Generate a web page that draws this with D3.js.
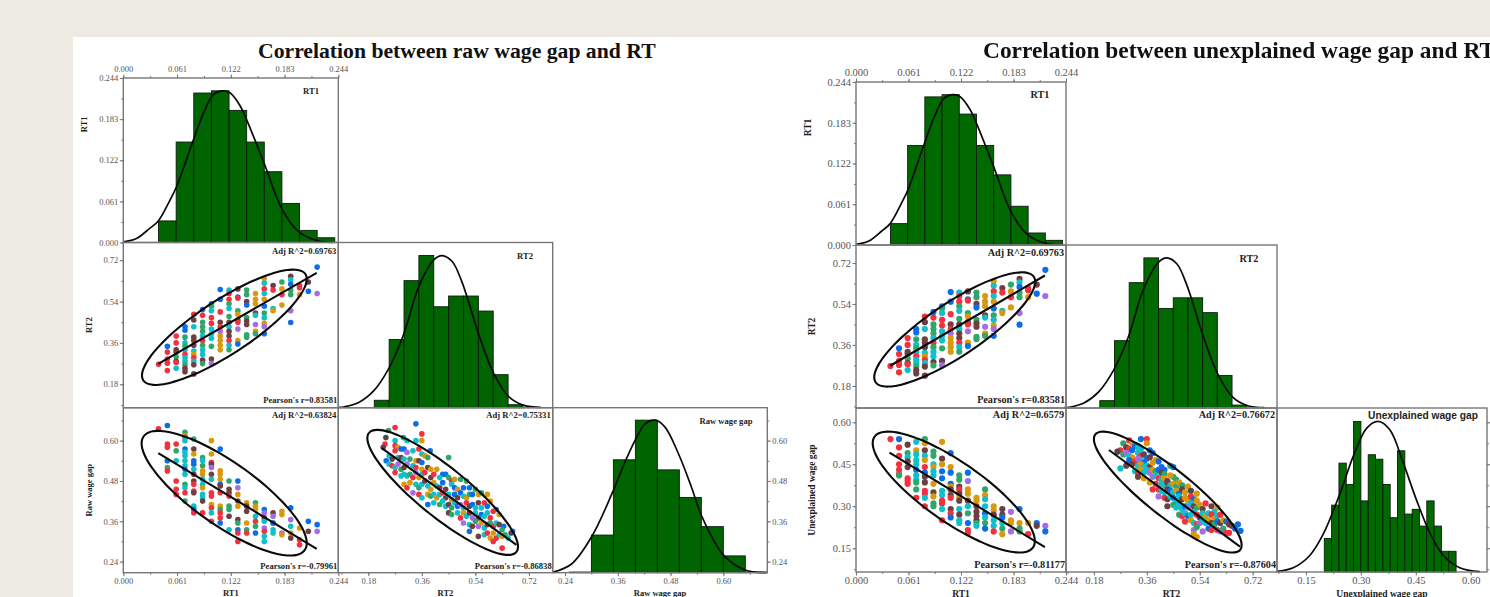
<!DOCTYPE html>
<html><head><meta charset="utf-8">
<script src="https://cdnjs.cloudflare.com/ajax/libs/d3/7.8.5/d3.min.js"></script>
<style>
html,body{margin:0;padding:0;background:#EDEBE1;overflow:hidden}
svg{display:block;filter:blur(0.6px)}
text{font-family:"Liberation Serif",serif}
</style></head><body><svg id="c" width="1490" height="597"></svg>
<script>
// ---------- tick labels ----------
const rt1Ticks=[0,.061,.122,.183,.244];
const rt2Ticks=[.18,.36,.54,.72];
const rawTicks=[.24,.36,.48,.60];
const unexTicks=[.15,.30,.45,.60];
// ---------- histograms: bin left edges and heights ----------
const rt1Edges=[.04,.06,.08,.10,.12,.14,.16,.18,.20,.22,.24];
const rt1Heights=[.032,.149,.2217,.225,.196,.149,.105,.058,.018,.007];
const rt2Edges=[.20,.25,.30,.35,.40,.45,.50,.55,.60,.65,.70];
const rt2Heights=[.045,.413,.769,.921,.611,.676,.676,.585,.20,.018];
const rawEdges=[.25,.30,.35,.40,.45,.50,.55,.60,.65,.70];
const rawHeights=[.209,.319,.543,.661,.513,.431,.344,.257,.209];
const unexEdges=[.20,.22,.24,.26,.28,.30,.32,.34,.36,.38,.40,.42,.44,.46,.48,.50,.52,.54,.56];
const unexHeights=[.185,.304,.454,.378,.603,.319,.484,.468,.378,.259,.498,.272,.289,.229,.319,.229,.139,.139];
// ---------- fitted curves ----------
const rt1Curve=[[0,.001],[.015,.006],[.030,.021],[.0397,.032],[.053,.063],[.0605,.083],[.0795,.152],[.091,.192],[.102,.219],[.112,.225],[.121,.222],[.132,.204],[.140,.182],[.1597,.118],[.180,.050],[.199,.016],[.219,.003],[.238,0]];
const rt2Curve=[[.079,.002],[.101,.006],[.146,.03],[.197,.10],[.248,.235],[.298,.44],[.349,.73],[.40,.895],[.428,.921],[.462,.885],[.495,.76],[.552,.44],[.602,.206],[.653,.065],[.703,.014],[.76,.002]];
const rawCurve=[[.213,.209],[.255,.233],[.301,.315],[.346,.44],[.376,.535],[.399,.60],[.422,.65],[.445,.661],[.467,.641],[.498,.561],[.528,.46],[.551,.375],[.60,.26],[.649,.215],[.698,.207]];
const unexCurve=[[.07,.067],[.115,.08],[.161,.125],[.197,.20],[.243,.346],[.279,.478],[.316,.579],[.347,.603],[.379,.573],[.416,.454],[.452,.322],[.489,.203],[.525,.125],[.57,.08],[.625,.066]];
// ---------- regression lines [x0,y0,x1,y1] ----------
const lineRt1Rt2=[.0397,.2687,.2195,.665];
const lineRt1Raw=[.0397,.563,.2195,.278];
const lineRt2Raw=[.2252,.578,.678,.29];
const lineRt1Unex=[.0389,.4915,.2195,.1536];
const lineRt2Unex=[.2312,.501,.677,.156];
// ---------- confidence ellipses [meanX,meanY,halfWidth,halfHeight,r] ----------
const ellRt1Rt2=[.1147,.428,.0935,.251,.836];
const ellRt1Raw=[.1145,.4435,.0937,.1855,-.80];
const ellRt2Raw=[.43,.446,.2533,.186,-.868];
const ellRt1Unex=[.1136,.3505,.0942,.216,-.81];
const ellRt2Unex=[.4313,.3505,.2513,.216,-.876];
// ---------- groups ----------
const groupColors=["#F2313F","#0B6EE6","#2FA76B","#D9990E","#A56CE4","#6E3F41","#0FC0CB","#4A4A4A"];
// ---------- scatter points [x,y,group] ----------
const ptsRt1Rt2=[[.04,.267,0],[.05,.345,1],[.05,.32,0],[.05,.29,0],[.05,.272,0],[.05,.24,0],
[.06,.39,0],[.06,.36,0],[.06,.33,5],[.06,.32,5],[.06,.30,2],[.06,.28,5],[.06,.275,0],[.06,.25,6],
[.07,.43,1],[.07,.415,1],[.07,.385,2],[.07,.36,6],[.07,.345,2],[.07,.33,6],[.07,.31,0],[.07,.295,6],[.07,.28,6],[.07,.265,2],[.07,.25,5],[.07,.235,5],
[.08,.485,0],[.08,.46,5],[.08,.43,6],[.08,.385,5],[.08,.37,5],[.08,.35,5],[.08,.325,6],[.08,.31,3],[.08,.295,0],[.08,.28,6],[.08,.265,5],[.08,.225,5],
[.09,.505,1],[.09,.48,0],[.09,.45,2],[.09,.43,2],[.09,.41,2],[.09,.39,6],[.09,.37,0],[.09,.35,2],[.09,.33,6],[.09,.31,6],[.09,.285,5],[.09,.27,2],
[.10,.53,1],[.10,.52,2],[.10,.50,6],[.10,.47,0],[.10,.445,0],[.10,.42,6],[.10,.40,6],[.10,.38,6],[.10,.345,2],[.10,.29,5],[.10,.27,4],
[.11,.592,1],[.11,.55,1],[.11,.495,0],[.11,.45,5],[.11,.43,0],[.11,.41,4],[.11,.39,3],[.11,.37,3],[.11,.35,3],[.11,.33,3],
[.12,.59,6],[.12,.575,0],[.12,.55,0],[.12,.53,2],[.12,.51,6],[.12,.475,2],[.12,.45,5],[.12,.43,6],[.12,.41,5],[.12,.39,5],[.12,.37,0],[.12,.35,6],[.12,.33,2],
[.13,.595,5],[.13,.56,1],[.13,.555,0],[.13,.50,2],[.13,.485,3],[.13,.46,5],[.13,.45,0],[.13,.42,4],[.13,.37,3],[.13,.355,1],
[.14,.59,2],[.14,.57,2],[.14,.54,5],[.14,.525,1],[.14,.47,2],[.14,.455,5],[.14,.44,5],[.14,.395,2],[.14,.385,2],
[.15,.575,3],[.15,.55,3],[.15,.53,3],[.15,.49,5],[.15,.48,6],[.15,.44,4],[.15,.41,3],[.15,.40,2],
[.16,.64,3],[.16,.62,6],[.16,.595,0],[.16,.575,6],[.16,.55,3],[.16,.52,1],[.16,.49,2],[.16,.47,6],[.16,.445,3],[.16,.43,4],[.16,.40,1],
[.17,.61,5],[.17,.59,0],[.17,.51,6],[.17,.50,3],
[.18,.625,2],[.18,.595,3],[.18,.57,0],[.18,.525,3],
[.19,.65,5],[.19,.635,6],[.19,.615,1],[.19,.59,2],[.19,.57,2],[.19,.50,4],[.19,.449,1],
[.20,.61,0],[.20,.60,0],[.20,.57,3],[.21,.625,5],[.21,.585,1],[.22,.69,1],[.22,.575,4]];
const ptsRt1Raw=[[.04,.635,0],[.05,.645,1],[.05,.59,0],[.05,.58,0],[.05,.54,1],[.05,.52,2],[.05,.51,0],
[.06,.59,0],[.06,.57,2],[.06,.54,6],[.06,.48,0],[.06,.455,0],[.06,.44,0],
[.07,.625,2],[.07,.615,3],[.07,.61,0],[.07,.60,6],[.07,.575,1],[.07,.565,6],[.07,.555,6],[.07,.54,6],[.07,.525,6],[.07,.515,1],[.07,.50,6],[.07,.47,2],[.07,.46,6],[.07,.445,0],[.07,.42,2],
[.08,.605,2],[.08,.575,5],[.08,.56,3],[.08,.54,1],[.08,.53,1],[.08,.515,6],[.08,.50,5],[.08,.48,5],[.08,.47,0],[.08,.45,0],[.08,.445,5],[.08,.405,6],[.08,.395,1],[.08,.385,0],
[.09,.55,2],[.09,.54,6],[.09,.525,2],[.09,.51,3],[.09,.50,3],[.09,.485,6],[.09,.47,6],[.09,.46,3],[.09,.44,6],[.09,.43,6],[.09,.42,5],[.09,.385,0],
[.10,.60,3],[.10,.56,3],[.10,.535,0],[.10,.53,5],[.10,.52,4],[.10,.50,5],[.10,.485,6],[.10,.445,0],[.10,.435,0],[.10,.41,3],[.10,.40,0],[.10,.385,6],[.10,.36,0],
[.11,.575,1],[.11,.51,3],[.11,.50,3],[.11,.485,3],[.11,.47,1],[.11,.465,5],[.11,.445,0],[.11,.405,3],[.11,.395,2],[.11,.385,0],[.11,.37,0],[.11,.355,1],
[.12,.48,2],[.12,.455,5],[.12,.445,5],[.12,.435,0],[.12,.405,2],[.12,.395,2],[.12,.375,5],[.12,.335,6],
[.13,.48,1],[.13,.46,4],[.13,.44,3],[.13,.42,5],[.13,.405,3],[.13,.365,5],[.13,.355,2],[.13,.335,1],[.13,.325,0],[.13,.30,0],
[.14,.415,3],[.14,.405,5],[.14,.39,5],[.14,.355,3],[.14,.335,2],[.14,.325,0],
[.15,.415,2],[.15,.405,3],[.15,.395,3],[.15,.375,6],[.15,.36,0],[.15,.345,2],[.15,.325,1],
[.16,.395,1],[.16,.385,4],[.16,.37,5],[.16,.36,6],[.16,.34,4],[.16,.33,0],[.16,.315,6],[.16,.30,6],
[.17,.385,5],[.17,.375,4],[.17,.355,2],[.17,.355,1],[.17,.335,6],[.17,.325,6],
[.18,.39,3],[.18,.38,3],[.18,.325,4],[.18,.32,3],
[.19,.40,1],[.19,.365,4],[.19,.345,6],[.19,.325,3],[.19,.31,5],
[.20,.34,3],[.20,.305,0],[.20,.29,0],[.21,.36,1],[.21,.33,5],[.22,.35,1],[.22,.33,4]];
const ptsRt1Unex=[[.04,.54,0],[.05,.54,1],[.05,.51,0],[.05,.48,0],[.05,.45,0],[.05,.43,0],[.05,.415,0],[.05,.41,2],
[.06,.52,5],[.06,.49,2],[.06,.475,6],[.06,.46,5],[.06,.44,5],[.06,.40,0],[.06,.39,0],[.06,.38,0],
[.07,.53,6],[.07,.50,3],[.07,.485,6],[.07,.465,6],[.07,.45,6],[.07,.43,1],[.07,.41,6],[.07,.395,6],[.07,.385,2],[.07,.36,2],[.07,.33,0],
[.08,.54,2],[.08,.525,3],[.08,.50,5],[.08,.48,6],[.08,.465,3],[.08,.44,0],[.08,.42,1],[.08,.405,5],[.08,.385,5],[.08,.355,0],[.08,.345,0],[.08,.33,6],[.08,.30,0],
[.09,.495,2],[.09,.48,2],[.09,.45,6],[.09,.44,3],[.09,.425,6],[.09,.41,6],[.09,.38,3],[.09,.35,5],[.09,.335,3],[.09,.31,2],[.09,.30,2],
[.10,.53,3],[.10,.47,5],[.10,.45,3],[.10,.425,1],[.10,.40,1],[.10,.355,6],[.10,.34,6],[.10,.32,0],[.10,.31,0],[.10,.29,6],[.10,.25,0],
[.11,.49,1],[.11,.44,3],[.11,.42,1],[.11,.38,1],[.11,.37,3],[.11,.36,5],[.11,.34,5],[.11,.33,0],[.11,.29,5],[.11,.275,0],[.11,.26,1],
[.12,.41,2],[.12,.395,2],[.12,.37,5],[.12,.36,0],[.12,.345,5],[.12,.33,3],[.12,.32,5],[.12,.29,6],[.12,.27,5],[.12,.25,6],[.12,.24,6],
[.13,.42,1],[.13,.39,4],[.13,.36,3],[.13,.345,3],[.13,.32,5],[.13,.30,6],[.13,.275,2],[.13,.24,1],[.13,.215,0],[.13,.205,0],
[.14,.33,3],[.14,.32,3],[.14,.30,5],[.14,.28,5],[.14,.265,5],[.14,.25,5],[.14,.24,2],[.14,.23,6],
[.15,.36,2],[.15,.34,3],[.15,.325,6],[.15,.30,6],[.15,.275,1],[.15,.26,6],[.15,.24,2],[.15,.22,1],
[.16,.30,3],[.16,.285,3],[.16,.27,5],[.16,.25,6],[.16,.23,6],[.16,.21,0],
[.17,.29,5],[.17,.27,5],[.17,.26,1],[.17,.24,6],[.17,.22,2],[.17,.20,3],
[.18,.28,4],[.18,.25,3],[.18,.24,3],[.18,.21,4],
[.19,.29,1],[.19,.24,3],[.19,.22,2],[.19,.21,2],
[.20,.24,3],[.20,.20,0],[.21,.24,1],[.21,.23,5],[.22,.23,4],[.22,.21,1]];
const ptsRt2Raw=[[.27,.639,0],[.34,.65,1],[.248,.63,2],[.36,.62,0],[.239,.609,7],[.298,.609,2],[.31,.60,6],[.27,.60,6],[.34,.60,6],[.36,.60,3],[.236,.59,0],[.23,.58,5],[.388,.57,1],[.45,.55,2],
[.27,.585,0],[.28,.58,3],[.29,.575,1],[.30,.575,1],[.31,.565,4],[.27,.57,0],[.33,.57,6],[.35,.575,0],[.36,.56,6],[.37,.555,3],
[.25,.555,6],[.26,.545,5],[.24,.54,1],[.28,.55,6],[.29,.55,5],[.30,.545,6],[.32,.545,2],[.34,.54,3],[.35,.54,5],[.36,.535,1],[.38,.55,2],
[.25,.53,6],[.26,.525,0],[.27,.52,6],[.28,.53,4],[.29,.515,2],[.30,.52,5],[.31,.53,4],[.33,.525,6],[.34,.52,0],[.36,.515,3],[.38,.52,5],[.39,.515,3],[.41,.515,3],[.43,.50,1],[.44,.50,1],
[.27,.505,0],[.29,.495,6],[.30,.50,6],[.31,.495,6],[.32,.50,2],[.33,.49,0],[.34,.505,4],[.35,.49,3],[.36,.50,6],[.37,.505,0],[.39,.49,5],[.40,.50,0],[.42,.49,6],[.45,.49,2],[.46,.48,0],[.47,.485,3],[.49,.485,2],[.51,.48,2],
[.30,.47,3],[.31,.46,0],[.32,.475,3],[.34,.47,6],[.35,.46,2],[.36,.47,6],[.37,.48,5],[.38,.465,6],[.39,.455,3],[.40,.475,3],[.41,.465,6],[.42,.46,5],[.43,.475,1],[.44,.455,5],[.46,.47,6],[.47,.46,1],[.48,.455,3],[.50,.46,1],[.52,.46,1],[.54,.455,2],
[.33,.445,4],[.35,.44,0],[.36,.43,6],[.38,.44,3],[.39,.435,2],[.40,.44,6],[.41,.43,3],[.42,.44,6],[.43,.445,0],[.44,.43,5],[.45,.44,6],[.46,.425,3],[.47,.44,1],[.48,.43,5],[.49,.445,1],[.50,.435,6],[.51,.43,3],[.52,.44,2],[.53,.44,1],[.55,.44,3],[.56,.445,2],[.58,.44,3],
[.38,.41,1],[.40,.415,6],[.42,.41,2],[.43,.42,6],[.44,.405,6],[.45,.41,5],[.46,.40,2],[.47,.415,6],[.48,.405,1],[.49,.41,4],[.50,.40,6],[.51,.415,0],[.52,.405,5],[.53,.41,1],[.54,.40,6],[.55,.415,5],[.56,.40,6],[.57,.415,0],[.58,.405,1],[.59,.42,3],[.61,.395,1],
[.45,.385,5],[.46,.38,2],[.48,.385,6],[.49,.37,0],[.50,.385,3],[.51,.375,6],[.52,.385,5],[.53,.37,4],[.54,.385,6],[.55,.37,5],[.56,.38,1],[.57,.375,6],[.58,.385,6],[.59,.37,0],[.60,.39,0],[.62,.38,3],
[.50,.355,4],[.52,.35,6],[.53,.345,5],[.54,.36,2],[.55,.345,4],[.56,.355,3],[.57,.34,6],[.58,.35,5],[.59,.355,2],[.60,.345,0],[.61,.355,6],[.62,.35,5],[.635,.345,1],[.665,.33,1],[.63,.335,2],
[.52,.33,1],[.55,.315,5],[.57,.32,6],[.58,.325,0],[.59,.31,3],[.60,.325,3],[.61,.31,0],[.62,.32,6],[.63,.315,3],[.64,.32,2],[.65,.31,6],[.66,.325,7],[.63,.28,0],[.60,.30,0]];
const ptsRt2Unex=[[.34,.54,1],[.36,.54,0],[.36,.525,3],[.30,.535,0],[.28,.525,2],[.31,.525,3],[.32,.515,1],[.33,.51,6],[.29,.51,5],[.30,.505,0],[.27,.50,0],[.26,.495,7],[.31,.50,1],[.34,.505,6],[.37,.50,1],[.38,.49,1],
[.28,.485,2],[.29,.49,4],[.30,.48,6],[.31,.475,3],[.33,.49,6],[.34,.48,0],[.35,.485,5],[.36,.47,1],[.37,.475,5],[.30,.465,1],[.32,.46,0],[.34,.465,6],[.35,.455,1],[.33,.47,4],[.39,.465,3],[.40,.46,1],
[.29,.445,5],[.31,.45,5],[.33,.445,6],[.34,.45,3],[.35,.44,6],[.36,.445,6],[.37,.44,5],[.38,.455,3],[.41,.44,1],[.42,.43,1],[.44,.445,2],[.45,.44,1],
[.27,.435,6],[.32,.425,6],[.33,.42,0],[.34,.43,3],[.35,.42,6],[.36,.43,6],[.37,.42,4],[.38,.43,3],[.39,.425,2],[.40,.43,1],[.41,.42,5],[.42,.415,2],[.45,.405,2],[.33,.405,5],[.35,.40,3],
[.38,.405,4],[.39,.41,6],[.40,.40,0],[.41,.395,6],[.42,.40,3],[.43,.39,5],[.44,.41,3],[.46,.395,2],[.37,.385,3],[.39,.38,0],[.41,.38,6],[.42,.375,6],[.43,.385,5],[.44,.375,6],[.45,.38,3],[.46,.37,2],[.47,.385,3],[.48,.375,2],[.50,.37,3],[.38,.36,0],[.40,.36,0],[.41,.355,6],[.42,.35,6],[.43,.36,5],[.44,.355,1],[.45,.35,6],[.46,.355,3],[.47,.345,1],[.48,.36,5],[.49,.35,3],[.51,.355,7],[.53,.345,3],
[.40,.335,4],[.42,.33,0],[.43,.325,5],[.44,.335,6],[.45,.33,1],[.46,.32,6],[.47,.335,6],[.48,.325,5],[.49,.33,3],[.50,.32,3],[.51,.335,0],[.52,.325,1],[.53,.32,3],[.43,.30,5],[.45,.305,2],[.46,.295,6],[.47,.305,6],[.48,.29,6],[.49,.30,1],[.50,.295,4],[.51,.31,6],[.52,.30,5],[.53,.295,2],[.54,.305,3],[.55,.29,5],[.56,.31,0],[.58,.30,5],[.60,.295,3],[.59,.28,6],
[.47,.27,2],[.48,.265,0],[.49,.275,6],[.50,.265,1],[.51,.27,6],[.52,.28,6],[.53,.27,0],[.54,.26,5],[.55,.275,6],[.56,.265,3],[.57,.275,6],[.58,.27,0],[.59,.255,3],[.60,.265,6],[.61,.27,0],
[.49,.245,0],[.51,.25,3],[.52,.24,6],[.53,.235,0],[.54,.24,4],[.55,.25,6],[.56,.24,6],[.57,.25,3],[.58,.24,5],[.59,.235,2],[.60,.245,1],[.61,.24,5],[.62,.25,3],[.63,.245,1],[.64,.235,5],[.65,.23,5],
[.52,.215,4],[.53,.225,2],[.55,.21,4],[.57,.22,1],[.58,.215,0],[.60,.215,0],[.61,.21,4],[.62,.22,2],[.63,.205,0],[.64,.205,0],[.52,.20,3],[.53,.19,3],[.66,.22,1],[.679,.212,1],[.67,.235,1]];

// ---------- layout ----------
const svg=d3.select("#c");
svg.append("rect").attr("x",73).attr("y",37).attr("width",1417).attr("height",560).attr("fill","#fff");
const frame="#777",tickCol="#555",barBlack="#0c1a0c";
const groups=[
 {cols:[123.3,338.3,552.7,767.3],rows:[78,242.5,407.7,572.7],fs:8.5,lab:8.5,noteFs:8.6,bar:"#006400",topPad:2.5,
  d2:[.079,.80],y2:[.078,.797],d3:[.212,.70],y3:[.207,.698],ticks3:rawTicks,curve3:rawCurve,edges3:rawEdges,h3:rawHeights,
  pA:ptsRt1Raw,pB:ptsRt2Raw,lA:lineRt1Raw,lB:lineRt2Raw,eA:ellRt1Raw,eB:ellRt2Raw,name3:"Raw wage gap",
  title:"Correlation between raw wage gap and RT",tx:258,ty:57.5,tfs:21.7,
  yLabX:[87,92,92],xLabY:596,
  stats:{a:"0.69763",p:"0.83581",a2:"0.63824",p2:"-0.79961",a3:"0.75331",p3:"-0.86838"},d1x:311,d2x:525,d1y:94,d2y:259,d3x:726,d3y:424,sans3:false,rightLabels:true,r:2.8},
 {cols:[856,1066,1277,1487],rows:[82,245,408,572],fs:10.5,lab:9.5,noteFs:10.2,bar:"#006A00",topPad:2.5,
  d2:[.085,.803],y2:[.083,.799],d3:[.0708,.6445],y3:[.065,.651],ticks3:unexTicks,curve3:unexCurve,edges3:unexEdges,h3:unexHeights,
  pA:ptsRt1Unex,pB:ptsRt2Unex,lA:lineRt1Unex,lB:lineRt2Unex,eA:ellRt1Unex,eB:ellRt2Unex,name3:"Unexplained wage gap",
  title:"Correlation between unexplained wage gap and RT",tx:983,ty:57.5,tfs:23.4,
  yLabX:[811,815,815],xLabY:596.5,
  stats:{a:"0.69763",p:"0.83581",a2:"0.6579",p2:"-0.81177",a3:"0.76672",p3:"-0.87604"},d1x:1040,d2x:1249,d1y:98,d2y:262,d3x:1423,d3y:419,sans3:true,rightLabels:false,r:3.1}
];
const f3=d3.format(".3f"),f2=d3.format(".2f");
const mids=t=>{const s=t[1]-t[0],o=[];for(let v=t[0]-s/2;v<t[t.length-1]+s;v+=s/2)o.push(v);return o;};

function axis(g,gen,tx,ty,ticks,fmt,fs,dom,showLabels,pad=1.5){
 const minor=mids(ticks).filter(v=>v>=dom[0]-1e-9&&v<=dom[1]+1e-9);
 const m=g.append("g").attr("transform",`translate(${tx},${ty})`).call(gen.tickValues(minor).tickSize(2).tickFormat(""));
 const a=g.append("g").attr("transform",`translate(${tx},${ty})`).call(gen.tickValues(ticks).tickSize(3.5).tickPadding(pad).tickFormat(showLabels?fmt:""));
 [m,a].forEach(x=>{x.select(".domain").remove();x.selectAll("line").attr("stroke",frame);});
 a.selectAll("text").attr("font-size",fs).attr("fill",tickCol).style("font-family",'"Liberation Serif",serif');
}
function hist(g,x,y,edges,heights,base,fill){
 g.selectAll(null).data(heights).join("rect")
  .attr("x",(d,i)=>x(edges[i])).attr("width",(d,i)=>x(edges[i+1])-x(edges[i]))
  .attr("y",d=>y(d)).attr("height",d=>y(base)-y(d))
  .attr("fill",fill).attr("stroke",barBlack).attr("stroke-width",.9);
}
function curve(g,x,y,pts){
 g.append("path").attr("d",d3.line().x(d=>x(d[0])).y(d=>y(d[1])).curve(d3.curveCatmullRom.alpha(.5))(pts))
  .attr("fill","none").attr("stroke","#0a0a0a").attr("stroke-width",1.7);
}
function scatter(g,x,y,pts,line,ell,r){
 g.selectAll(null).data(pts).join("circle").attr("cx",d=>x(d[0])).attr("cy",d=>y(d[1])).attr("r",r).attr("fill",d=>groupColors[d[2]]);
 g.append("line").attr("x1",x(line[0])).attr("y1",y(line[1])).attr("x2",x(line[2])).attr("y2",y(line[3])).attr("stroke","#0a0a0a").attr("stroke-width",2.1);
 const [mx,my,ax,ay,c]=ell,phi=Math.acos(c);
 const path=d3.line().x(t=>x(mx+ax*Math.cos(t))).y(t=>y(my+ay*Math.cos(t+phi))).curve(d3.curveCardinalClosed);
 g.append("path").attr("d",path(d3.range(0,2*Math.PI,Math.PI/36))).attr("fill","none").attr("stroke","#0a0a0a").attr("stroke-width",2.1);
}
function txt(g,s,x,y,fs,anchor,opt={}){
 const t=g.append("text").text(s).attr("x",x).attr("y",y).attr("font-size",fs).attr("text-anchor",anchor).attr("font-weight","bold").attr("fill",opt.fill||"#222");
 if(opt.sans)t.style("font-family",'"Liberation Sans",sans-serif');
 if(opt.rot)t.attr("transform",`rotate(-90 ${x} ${y})`);
 return t;
}
groups.forEach(G=>{
 const g=svg.append("g"),[c0,c1,c2,c3]=G.cols,[r0,r1,r2,r3]=G.rows;
 const rt1Dom=[0,.244];
 const x1=d3.scaleLinear(rt1Dom,[c0,c1]),x2=d3.scaleLinear(G.d2,[c1,c2]),x3=d3.scaleLinear(G.d3,[c2,c3]);
 const y1=d3.scaleLinear(rt1Dom,[r1,r0]),y2=d3.scaleLinear(G.y2,[r2,r1]),y3=d3.scaleLinear(G.y3,[r3,r2]);
 const yH2=d3.scaleLinear([0,1],[r2,r1]);
 hist(g,x1,y1,rt1Edges,rt1Heights,0,G.bar);curve(g,x1,y1,rt1Curve);
 hist(g,x2,yH2,rt2Edges,rt2Heights,0,G.bar);curve(g,x2,yH2,rt2Curve);
 hist(g,x3,y3,G.edges3,G.h3,G.y3[0],G.bar);curve(g,x3,y3,G.curve3);
 scatter(g,x1,y2,ptsRt1Rt2,lineRt1Rt2,ellRt1Rt2,G.r);
 scatter(g,x1,y3,G.pA,G.lA,G.eA,G.r);
 scatter(g,x2,y3,G.pB,G.lB,G.eB,G.r);
 [[c0,r0,c1,r1],[c0,r1,c1,r2],[c1,r1,c2,r2],[c0,r2,c1,r3],[c1,r2,c2,r3],[c2,r2,c3,r3]].forEach(b=>{
  g.append("rect").attr("x",b[0]).attr("y",b[1]).attr("width",b[2]-b[0]).attr("height",b[3]-b[1]).attr("fill","none").attr("stroke",frame).attr("stroke-width",1.4);
 });
 axis(g,d3.axisTop(x1),0,r0,rt1Ticks,f3,G.fs,rt1Dom,true,G.topPad);
 axis(g,d3.axisLeft(y1),c0,0,rt1Ticks,f3,G.fs,rt1Dom,true);
 axis(g,d3.axisLeft(y2),c0,0,rt2Ticks,f2,G.fs,G.y2,true);
 axis(g,d3.axisLeft(y3),c0,0,G.ticks3,f2,G.fs,G.y3,true);
 axis(g,d3.axisBottom(x1),0,r3,rt1Ticks,f3,G.fs,rt1Dom,true);
 axis(g,d3.axisBottom(x2),0,r3,rt2Ticks,f2,G.fs,G.d2,true);
 axis(g,d3.axisBottom(x3),0,r3,G.ticks3,f2,G.fs,G.d3,true);
 axis(g,d3.axisRight(y3),c3,0,G.ticks3,f2,G.fs,G.y3,G.rightLabels);
 g.append("text").text(G.title).attr("x",G.tx).attr("y",G.ty).attr("font-size",G.tfs).attr("font-weight","bold").attr("fill","#111");
 txt(g,"RT1",G.yLabX[0],(r0+r1)/2-36,G.lab,"middle",{rot:true});
 txt(g,"RT2",G.yLabX[1],(r1+r2)/2,G.lab,"middle",{rot:true});
 txt(g,G.name3,G.yLabX[2],(r2+r3)/2,G.lab,"middle",{rot:true});
 txt(g,"RT1",(c0+c1)/2,G.xLabY,G.lab,"middle");
 txt(g,"RT2",(c1+c2)/2,G.xLabY,G.lab,"middle");
 txt(g,G.name3,(c2+c3)/2,G.xLabY,G.lab,"middle");
 txt(g,"RT1",G.d1x,G.d1y,G.noteFs,"middle");
 txt(g,"RT2",G.d2x,G.d2y,G.noteFs,"middle");
 txt(g,G.name3,G.d3x,G.d3y,G.noteFs,"middle",{sans:G.sans3});
 const n=G.stats,adj=s=>"Adj R^2="+s,per=s=>"Pearson's r="+s;
 txt(g,adj(n.a),c1-2,r1+11,G.noteFs,"end");
 txt(g,per(n.p),c1-1,r2-5,G.noteFs,"end");
 txt(g,adj(n.a2),c1-2,r2+10,G.noteFs,"end");
 txt(g,per(n.p2),c1-1,r3-4,G.noteFs,"end");
 txt(g,adj(n.a3),c2-2,r2+10,G.noteFs,"end");
 txt(g,per(n.p3),c2-1,r3-4,G.noteFs,"end");
});
</script></body></html>
